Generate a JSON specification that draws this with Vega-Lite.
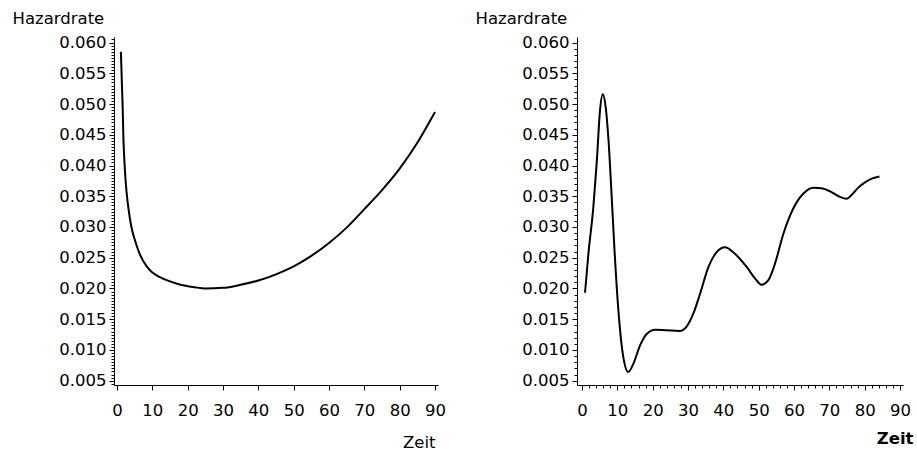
{
  "$schema": "https://vega.github.io/schema/vega-lite/v6.json",
  "background": "white",
  "padding": {"left": 12, "top": 10, "right": 5, "bottom": 2},
  "datasets": {
    "links": [
      {"Zeit": 1.1, "Hazardrate": 0.0585},
      {"Zeit": 1.4, "Hazardrate": 0.0530},
      {"Zeit": 1.6, "Hazardrate": 0.0495},
      {"Zeit": 1.8, "Hazardrate": 0.0447},
      {"Zeit": 2.0, "Hazardrate": 0.0418},
      {"Zeit": 2.3, "Hazardrate": 0.0387},
      {"Zeit": 2.7, "Hazardrate": 0.0357},
      {"Zeit": 3.2, "Hazardrate": 0.0332},
      {"Zeit": 4.0, "Hazardrate": 0.0302},
      {"Zeit": 5.1, "Hazardrate": 0.0278},
      {"Zeit": 6.5, "Hazardrate": 0.0255},
      {"Zeit": 8.4, "Hazardrate": 0.0236},
      {"Zeit": 10, "Hazardrate": 0.0226},
      {"Zeit": 12, "Hazardrate": 0.0219},
      {"Zeit": 14.8, "Hazardrate": 0.0212},
      {"Zeit": 18, "Hazardrate": 0.0206},
      {"Zeit": 22, "Hazardrate": 0.0202},
      {"Zeit": 25, "Hazardrate": 0.0200},
      {"Zeit": 30, "Hazardrate": 0.0201},
      {"Zeit": 35, "Hazardrate": 0.0206},
      {"Zeit": 40, "Hazardrate": 0.0213},
      {"Zeit": 45, "Hazardrate": 0.0223},
      {"Zeit": 50, "Hazardrate": 0.0236},
      {"Zeit": 55, "Hazardrate": 0.0253},
      {"Zeit": 60, "Hazardrate": 0.0274},
      {"Zeit": 65, "Hazardrate": 0.0299},
      {"Zeit": 70, "Hazardrate": 0.0329},
      {"Zeit": 75, "Hazardrate": 0.0360},
      {"Zeit": 80, "Hazardrate": 0.0395},
      {"Zeit": 85, "Hazardrate": 0.0437},
      {"Zeit": 90, "Hazardrate": 0.0487}
    ],
    "rechts": [
      {"Zeit": 0.85, "Hazardrate": 0.0193},
      {"Zeit": 1.8, "Hazardrate": 0.0256},
      {"Zeit": 3.2, "Hazardrate": 0.0332},
      {"Zeit": 4.2, "Hazardrate": 0.0408},
      {"Zeit": 5.1, "Hazardrate": 0.0490},
      {"Zeit": 5.85, "Hazardrate": 0.0516},
      {"Zeit": 6.7, "Hazardrate": 0.0495},
      {"Zeit": 7.5, "Hazardrate": 0.0441},
      {"Zeit": 8.4, "Hazardrate": 0.0349},
      {"Zeit": 9.2, "Hazardrate": 0.0262},
      {"Zeit": 10.3, "Hazardrate": 0.0164},
      {"Zeit": 11.7, "Hazardrate": 0.0088},
      {"Zeit": 13.1, "Hazardrate": 0.0064},
      {"Zeit": 14.5, "Hazardrate": 0.0077},
      {"Zeit": 16.4, "Hazardrate": 0.0107},
      {"Zeit": 18.3, "Hazardrate": 0.0126},
      {"Zeit": 20.7, "Hazardrate": 0.0133},
      {"Zeit": 24, "Hazardrate": 0.0132},
      {"Zeit": 27.7, "Hazardrate": 0.0131},
      {"Zeit": 29.6, "Hazardrate": 0.0138},
      {"Zeit": 31.5, "Hazardrate": 0.0159},
      {"Zeit": 33.4, "Hazardrate": 0.0191},
      {"Zeit": 35.8, "Hazardrate": 0.0235},
      {"Zeit": 38.1, "Hazardrate": 0.0259},
      {"Zeit": 40.5, "Hazardrate": 0.0267},
      {"Zeit": 42.8, "Hazardrate": 0.0259},
      {"Zeit": 46.6, "Hazardrate": 0.0235},
      {"Zeit": 49, "Hazardrate": 0.0216},
      {"Zeit": 50.8, "Hazardrate": 0.0206},
      {"Zeit": 52.7, "Hazardrate": 0.0213},
      {"Zeit": 54.6, "Hazardrate": 0.0240},
      {"Zeit": 57, "Hazardrate": 0.0289},
      {"Zeit": 59.8, "Hazardrate": 0.0330},
      {"Zeit": 62.6, "Hazardrate": 0.0354},
      {"Zeit": 65.5, "Hazardrate": 0.0364},
      {"Zeit": 67.8, "Hazardrate": 0.0363},
      {"Zeit": 70.2, "Hazardrate": 0.0358},
      {"Zeit": 73, "Hazardrate": 0.0349},
      {"Zeit": 74.9, "Hazardrate": 0.0346},
      {"Zeit": 76.3, "Hazardrate": 0.0352},
      {"Zeit": 78.2, "Hazardrate": 0.0364},
      {"Zeit": 80.2, "Hazardrate": 0.0373},
      {"Zeit": 82.2, "Hazardrate": 0.0379},
      {"Zeit": 84.2, "Hazardrate": 0.0382}
    ]
  },
  "spacing": 139,
  "bounds": "flush",
  "hconcat": [
    {
      "width": 324,
      "height": 348,
      "data": {"name": "links"},
      "resolve": {"axis": {"y": "independent", "x": "independent"}},
      "layer": [
        {
          "mark": {"type": "line", "color": "black", "strokeWidth": 2, "interpolate": "monotone", "clip": true},
          "encoding": {
            "x": {"field": "Zeit", "type": "quantitative",
              "scale": {"domain": [-0.85, 90.85], "nice": false, "zero": false},
              "axis": {"values": [0, 10, 20, 30, 40, 50, 60, 70, 80, 90], "tickSize": 5, "labelPadding": 12,
                "title": "Zeit", "titleX": 321, "titleY": 62.5, "titleAlign": "right", "titleAnchor": null, "titleBaseline": "alphabetic", "titleAngle": 0}},
            "y": {"field": "Hazardrate", "type": "quantitative",
              "scale": {"domain": [0.0043, 0.0609], "nice": false, "zero": false},
              "axis": {"values": [0.005, 0.01, 0.015, 0.02, 0.025, 0.03, 0.035, 0.04, 0.045, 0.05, 0.055, 0.06], "format": ".3f", "tickSize": 5, "labelPadding": 3,
                "title": "Hazardrate", "titleX": -102, "titleY": -13.5, "titleAngle": 0, "titleAlign": "left", "titleAnchor": null, "titleBaseline": "alphabetic"}}
          }
        },
        {
          "mark": {"type": "line", "opacity": 0},
          "encoding": {
            "x": {"field": "Zeit", "type": "quantitative", "axis": null},
            "y": {"field": "Hazardrate", "type": "quantitative",
              "axis": {"orient": "left", "labels": false, "domain": false, "title": null, "tickSize": 3,
                "values": [0.0045,0.0050,0.0055,0.0060,0.0065,0.0070,0.0075,0.0080,0.0085,0.0090,0.0095,0.0100,0.0105,0.0110,0.0115,0.0120,0.0125,0.0130,0.0135,0.0140,0.0145,0.0150,0.0155,0.0160,0.0165,0.0170,0.0175,0.0180,0.0185,0.0190,0.0195,0.0200,0.0205,0.0210,0.0215,0.0220,0.0225,0.0230,0.0235,0.0240,0.0245,0.0250,0.0255,0.0260,0.0265,0.0270,0.0275,0.0280,0.0285,0.0290,0.0295,0.0300,0.0305,0.0310,0.0315,0.0320,0.0325,0.0330,0.0335,0.0340,0.0345,0.0350,0.0355,0.0360,0.0365,0.0370,0.0375,0.0380,0.0385,0.0390,0.0395,0.0400,0.0405,0.0410,0.0415,0.0420,0.0425,0.0430,0.0435,0.0440,0.0445,0.0450,0.0455,0.0460,0.0465,0.0470,0.0475,0.0480,0.0485,0.0490,0.0495,0.0500,0.0505,0.0510,0.0515,0.0520,0.0525,0.0530,0.0535,0.0540,0.0545,0.0550,0.0555,0.0560,0.0565,0.0570,0.0575,0.0580,0.0585,0.0590,0.0595,0.0600,0.0605]}}
          }
        }
      ]
    },
    {
      "width": 326,
      "height": 348,
      "data": {"name": "rechts"},
      "resolve": {"axis": {"y": "independent", "x": "independent"}},
      "layer": [
        {
          "mark": {"type": "line", "color": "black", "strokeWidth": 2, "interpolate": "monotone", "clip": true},
          "encoding": {
            "x": {"field": "Zeit", "type": "quantitative",
              "scale": {"domain": [-1.42, 90.86], "nice": false, "zero": false},
              "axis": {"values": [0, 10, 20, 30, 40, 50, 60, 70, 80, 90], "tickSize": 5, "labelPadding": 12,
                "title": "Zeit", "titleFontWeight": "bold", "titleX": 336, "titleY": 58, "titleAlign": "right", "titleAnchor": null, "titleBaseline": "alphabetic", "titleAngle": 0}},
            "y": {"field": "Hazardrate", "type": "quantitative",
              "scale": {"domain": [0.0043, 0.0609], "nice": false, "zero": false},
              "axis": {"values": [0.005, 0.01, 0.015, 0.02, 0.025, 0.03, 0.035, 0.04, 0.045, 0.05, 0.055, 0.06], "format": ".3f", "tickSize": 5, "labelPadding": 3,
                "title": "Hazardrate", "titleX": -102, "titleY": -13.5, "titleAngle": 0, "titleAlign": "left", "titleAnchor": null, "titleBaseline": "alphabetic"}}
          }
        },
        {
          "mark": {"type": "line", "opacity": 0},
          "encoding": {
            "x": {"field": "Zeit", "type": "quantitative",
              "axis": {"orient": "bottom", "labels": false, "domain": false, "title": null, "tickSize": 3,
                "values": [0,2,4,6,8,10,12,14,16,18,20,22,24,26,28,30,32,34,36,38,40,42,44,46,48,50,52,54,56,58,60,62,64,66,68,70,72,74,76,78,80,82,84,86,88,90]}},
            "y": {"field": "Hazardrate", "type": "quantitative",
              "axis": {"orient": "left", "labels": false, "domain": false, "title": null, "tickSize": 3,
                "values": [0.005,0.006,0.007,0.008,0.009,0.010,0.011,0.012,0.013,0.014,0.015,0.016,0.017,0.018,0.019,0.020,0.021,0.022,0.023,0.024,0.025,0.026,0.027,0.028,0.029,0.030,0.031,0.032,0.033,0.034,0.035,0.036,0.037,0.038,0.039,0.040,0.041,0.042,0.043,0.044,0.045,0.046,0.047,0.048,0.049,0.050,0.051,0.052,0.053,0.054,0.055,0.056,0.057,0.058,0.059,0.060]}}
          }
        }
      ]
    }
  ],
  "config": {
    "view": {"stroke": null},
    "font": "DejaVu Sans",
    "axis": {
      "labelFont": "DejaVu Sans", "labelFontSize": 16.5, "labelColor": "black",
      "titleFont": "DejaVu Sans", "titleFontSize": 16.5, "titleFontWeight": "normal", "titleColor": "black",
      "domainColor": "black", "tickColor": "black", "domainWidth": 1, "tickWidth": 1,
      "grid": false, "labelFlush": false, "labelOverlap": false
    }
  }
}
